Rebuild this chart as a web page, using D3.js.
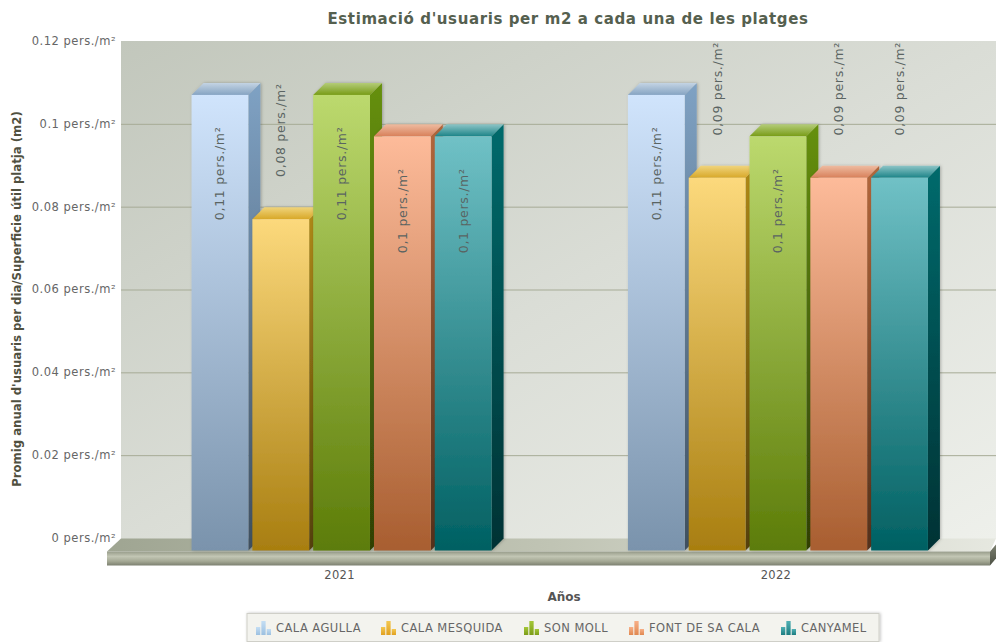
<!DOCTYPE html>
<html>
<head>
<meta charset="utf-8">
<script src="https://cdn.jsdelivr.net/npm/d3@7"></script>
<style>
  html, body { margin: 0; padding: 0; background: #fff; }
  svg { display: block; }
  text { font-family: "DejaVu Sans", sans-serif; }
</style>
</head>
<body>
<svg id="chart" width="996" height="642"></svg>
<script>
const years = ["2021", "2022"];
const beaches = ["CALA AGULLA", "CALA MESQUIDA", "SON MOLL", "FONT DE SA CALA", "CANYAMEL"];
const values2021 = [0.11, 0.08, 0.11, 0.1, 0.1];
const values2022 = [0.11, 0.09, 0.1, 0.09, 0.09];
const yTicks = [0, 0.02, 0.04, 0.06, 0.08, 0.1, 0.12];

// colours per beach: front top/bottom, side top/bottom, roof back/front, legend icon
const frontTop = ["#d0e4fc", "#fcd97c", "#bcd96e", "#fdbb9a", "#70c1c6"];
const frontBottom = ["#7a93ac", "#a87e10", "#5c7c08", "#a85e30", "#006062"];
const sideTop = ["#7fa2c4", "#b08a18", "#66900a", "#b4683c", "#006a6c"];
const sideBottom = ["#3f4f5f", "#54400a", "#2f4006", "#54301a", "#003234"];
const roofBack = ["#c4d4e4", "#f0d47c", "#b4cc78", "#eebba0", "#8cc4c6"];
const roofFront = ["#86a4c2", "#d8a828", "#789c18", "#d8805a", "#1c8488"];
const iconTop = ["#c4def4", "#f4c850", "#a4c838", "#f8b088", "#50b0b4"];
const iconBottom = ["#9cc0e0", "#e0a020", "#7c9c18", "#e08850", "#1c7c80"];

const depth = 12;
const svg = d3.select("#chart");
const defs = svg.append("defs");

function gradient(id, stops, x2, y2) {
  const g = defs.append("linearGradient").attr("id", id)
    .attr("x1", 0).attr("y1", 0).attr("x2", x2).attr("y2", y2);
  stops.forEach(s => g.append("stop").attr("offset", s[0]).attr("stop-color", s[1]));
}

gradient("wall", [[0, "#c2c7bc"], [0.5, "#dadDd6"], [1, "#eef0eb"]], 1, 1);
gradient("floorTop", [[0, "#9fa592"], [0.5, "#c0c4b4"], [1, "#e6e8e0"]], 1, 0);
gradient("slab", [[0, "#979c8a"], [0.35, "#c2c6b4"], [0.7, "#a4a894"], [1, "#7c8070"]], 0, 1);
gradient("slabSide", [[0, "#7c8070"], [1, "#4c5044"]], 0, 1);
beaches.forEach((b, i) => {
  gradient("front" + i, [[0, frontTop[i]], [1, frontBottom[i]]], 0, 1);
  gradient("side" + i, [[0, sideTop[i]], [1, sideBottom[i]]], 0, 1);
  gradient("roof" + i, [[0, roofBack[i]], [1, roofFront[i]]], 0, 1);
  gradient("icon" + i, [[0, iconTop[i]], [1, iconBottom[i]]], 0, 1);
});

const shadow = defs.append("filter").attr("id", "soft").attr("x", "-20%").attr("width", "140%");
shadow.append("feDropShadow").attr("dx", 1).attr("dy", 0).attr("stdDeviation", 1.5)
  .attr("flood-color", "#000").attr("flood-opacity", 0.25);

const y = d3.scaleLinear().domain([0, 0.12]).range([538.5, 41.5]);
const x0 = d3.scaleBand().domain(years).range([123.5, 996]).paddingInner(0.3125).paddingOuter(0.156);
const x1 = d3.scaleBand().domain(beaches).range([0, x0.bandwidth()]).paddingInner(0.066);

const fmt = v => String(v).replace(".", ",") + " pers./m²";

// back wall, grid, floor
svg.append("rect").attr("x", 121).attr("y", 41).attr("width", 875).attr("height", 498).attr("fill", "url(#wall)");

svg.append("g").selectAll("line").data(yTicks.slice(1, -1)).join("line")
  .attr("x1", 121).attr("x2", 996)
  .attr("y1", d => y(d)).attr("y2", d => y(d))
  .attr("stroke", "#a6ab96").attr("stroke-width", 1);

const floorY = y(0) + depth;
svg.append("polygon").attr("fill", "url(#floorTop)")
  .attr("points", [[121, y(0)], [996, y(0)], [990, floorY + 1], [107, floorY + 1]].join(" "));
svg.append("rect").attr("x", 107).attr("y", floorY + 1).attr("width", 883).attr("height", 14).attr("fill", "url(#slab)");
svg.append("polygon").attr("fill", "url(#slabSide)")
  .attr("points", [[990, floorY + 1], [996, floorY - 6], [996, floorY + 8], [990, floorY + 15]].join(" "));

// y axis
const yAxis = d3.axisLeft(y).tickValues(yTicks).tickSize(0).tickPadding(0)
  .tickFormat(d => String(d) + " pers./m²");
svg.append("g").attr("class", "y-axis").attr("transform", "translate(116,0)").call(yAxis)
  .call(g => g.select(".domain").remove())
  .selectAll("text").attr("font-size", 11.5).attr("letter-spacing", 0.5)
  .attr("font-family", "DejaVu Sans").attr("fill", "#666").attr("dy", "0.25em");

// x axis
const xAxis = d3.axisBottom(x0).tickSize(0).tickPadding(0);
svg.append("g").attr("class", "x-axis").attr("transform", "translate(-2,571)").call(xAxis)
  .call(g => g.select(".domain").remove())
  .selectAll("text").attr("font-size", 11.5).attr("letter-spacing", 0.3)
  .attr("font-family", "DejaVu Sans").attr("fill", "#555");

// bars
const rows = years.map((yr, i) => ({ year: yr, values: i === 0 ? values2021 : values2022 }));
const groups = svg.append("g").selectAll("g").data(rows).join("g")
  .attr("transform", d => `translate(${x0(d.year)},0)`);

const bars = groups.selectAll("g").data(d => d.values.map((v, i) => ({ v, i, name: beaches[i] })))
  .join("g").attr("filter", "url(#soft)");

const w = x1.bandwidth();
bars.append("polygon").attr("fill", d => `url(#side${d.i})`)
  .attr("points", d => {
    const r = x1(d.name) + w, top = y(d.v), base = y(0);
    return [[r, top + depth], [r + depth, top], [r + depth, base], [r, base + depth]].join(" ");
  });
bars.append("polygon").attr("fill", d => `url(#roof${d.i})`)
  .attr("points", d => {
    const l = x1(d.name), top = y(d.v);
    return [[l, top + depth], [l + depth, top], [l + w + depth, top], [l + w, top + depth]].join(" ");
  });
bars.append("rect").attr("fill", d => `url(#front${d.i})`)
  .attr("x", d => x1(d.name)).attr("width", w)
  .attr("y", d => y(d.v) + depth).attr("height", d => y(0) - y(d.v));

// value labels: inside the bar from 0,1 up, above it otherwise
const labelY = d => {
  const h = y(0) - y(d.v), top = y(d.v) + depth;
  return d.v >= 0.1 ? top + h * 0.0976 + 34 : top - 89;
};
groups.selectAll("text.val").data(d => d.values.map((v, i) => ({ v, i, name: beaches[i] })))
  .join("text").attr("class", "val")
  .attr("transform", d => `translate(${x1(d.name) + w / 2},${labelY(d)}) rotate(-90)`)
  .attr("text-anchor", "middle").attr("dy", "0.36em")
  .attr("font-size", 12.5).attr("letter-spacing", 0.7).attr("fill", "#5a6462")
  .text(d => fmt(d.v));

// titles
svg.append("text").attr("x", 568).attr("y", 24).attr("text-anchor", "middle")
  .attr("font-size", 15).attr("letter-spacing", 0.6).attr("font-weight", "bold").attr("fill", "#55604f")
  .text("Estimació d'usuaris per m2 a cada una de les platges");
svg.append("text").attr("x", 564).attr("y", 601).attr("text-anchor", "middle")
  .attr("font-size", 12).attr("font-weight", "bold").attr("fill", "#555").text("Años");
svg.append("text").attr("transform", "translate(21,299) rotate(-90)").attr("text-anchor", "middle")
  .attr("font-size", 11.7).attr("font-weight", "bold").attr("fill", "#50503f")
  .text("Promig anual d'usuaris per dia/Superficie útil platja (m2)");

// legend
const legendX = [256, 381, 524, 629, 781];
svg.append("rect").attr("x", 247).attr("y", 613.5).attr("width", 632).attr("height", 28)
  .attr("fill", "#f3f3ee").attr("stroke", "#cfcfc8").attr("filter", "url(#soft)");
const legend = svg.append("g").selectAll("g").data(beaches).join("g")
  .attr("transform", (d, i) => `translate(${legendX[i]},0)`);
const glyph = d3.scaleBand().domain([0, 1, 2]).range([0, 15]).paddingInner(0.2);
const glyphH = [8, 14, 6];
legend.each(function (d, i) {
  d3.select(this).selectAll("rect").data(glyphH).join("rect")
    .attr("x", (h, k) => glyph(k)).attr("width", glyph.bandwidth())
    .attr("y", h => 635 - h).attr("height", h => h)
    .attr("fill", `url(#icon${i})`);
});
legend.append("text").attr("x", 20).attr("y", 632)
  .attr("font-size", 11.5).attr("letter-spacing", 0.45).attr("fill", "#666").text(d => d);
</script>
</body>
</html>
